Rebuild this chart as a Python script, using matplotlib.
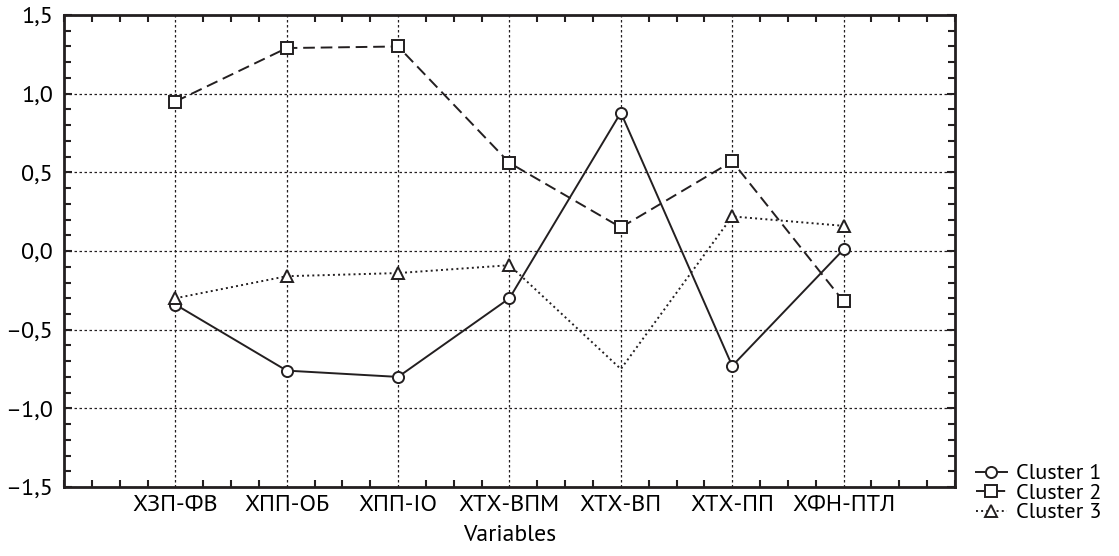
import matplotlib
matplotlib.use('Agg')
import matplotlib.pyplot as plt
from matplotlib.ticker import MultipleLocator, FuncFormatter

# данные
variables = ['ХЗП-ФВ', 'ХПП-ОБ', 'ХПП-IO', 'ХТХ-ВПМ', 'ХТХ-ВП', 'ХТХ-ПП', 'ХФН-ПТЛ']
cluster1 = [-0.34, -0.76, -0.80, -0.30, 0.88, -0.73, 0.01]
cluster2 = [0.95, 1.29, 1.30, 0.56, 0.15, 0.57, -0.32]
cluster3 = [-0.30, -0.16, -0.14, -0.09, -0.75, 0.22, 0.16]

plt.rcParams['font.family'] = ['PT Sans', 'DejaVu Sans']

fig = plt.figure(figsize=(11.19, 5.56), dpi=100)
ax = fig.add_axes([0.0572, 0.124, 0.7962, 0.849])

x = list(range(1, len(variables) + 1))

ax.plot(x, cluster1, '-', color='#231f20', lw=1.4, marker='o', ms=8,
        mfc='white', mec='#231f20', mew=1.4, label='Cluster 1', zorder=3)
ax.plot(x, cluster2, color='#231f20', lw=1.4, dashes=(6, 3), marker='s', ms=8,
        mfc='white', mec='#231f20', mew=1.4, label='Cluster 2', zorder=3)
ax.plot(x, cluster3, ':', color='#231f20', lw=1.4, marker='^', ms=8,
        mfc='white', mec='#231f20', mew=1.4, label='Cluster 3', zorder=3,
        markevery=[0, 1, 2, 3, 5, 6])

ax.set_xlim(0, len(variables) + 1)
ax.set_ylim(-1.5, 1.5)
ax.set_xticks(x)
ax.set_xticklabels(variables, fontsize=17.5)
ax.xaxis.set_minor_locator(MultipleLocator(0.25))
ax.yaxis.set_major_locator(MultipleLocator(0.5))
ax.yaxis.set_minor_locator(MultipleLocator(0.1))
ax.yaxis.set_major_formatter(FuncFormatter(
    lambda v, p: f'{v:.1f}'.replace('.', ',').replace('-', '–')))

ax.grid(True, which='major', linestyle=(0, (2, 2)), color='#231f20', lw=0.9)
ax.tick_params(axis='both', which='both', direction='in', top=True, right=True,
               color='#231f20')
ax.tick_params(axis='y', labelsize=17.5)
ax.tick_params(axis='x', which='major', length=0, pad=6)
ax.tick_params(axis='y', which='major', length=6, width=1.5, pad=8)
ax.tick_params(which='minor', length=5, width=1.5)
for s in ax.spines.values():
    s.set_linewidth(2)
    s.set_color('#231f20')

ax.set_xlabel('Variables', fontsize=17, labelpad=6)

ax.legend(loc='lower left', bbox_to_anchor=(1.006, -0.108), frameon=False,
          prop={'size': 16}, handlelength=1.4, handletextpad=0.4,
          labelspacing=0.0, borderaxespad=0.3)

fig.savefig('out.png', dpi=100)
